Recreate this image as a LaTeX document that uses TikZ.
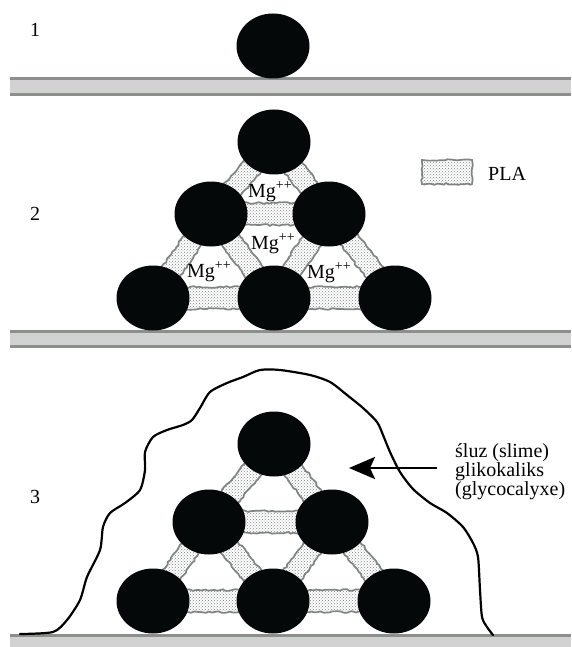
\documentclass[tikz,border=0pt]{standalone}
\usepackage{fontspec}
\setmainfont{Liberation Serif}
\usetikzlibrary{shapes.geometric,patterns,decorations.pathmorphing,arrows.meta}
\definecolor{cellblack}{RGB}{4,8,8}
\definecolor{linkgray}{RGB}{128,132,130}
\definecolor{barfill}{RGB}{210,210,210}
\definecolor{barline}{RGB}{140,143,140}
\begin{document}
\begin{tikzpicture}[x=1pt,y=-1pt,
  cell/.style={ellipse,fill=cellblack,draw=none,inner sep=0pt,
    minimum width=73pt,minimum height=65pt},
  link/.style={rectangle,inner sep=0pt,minimum width=#1,minimum height=20pt,
    draw=linkgray,line width=1.7pt,preaction={fill=white},
    pattern=crosshatch dots,pattern color=linkgray,
    decorate,decoration={random steps,segment length=3pt,amplitude=0.9pt}},
  link/.default=44pt,
  txt/.style={inner sep=0pt,font=\fontsize{20}{20}\selectfont},
  slime/.style={line width=2.2pt,line join=round,line cap=round},
  pointer/.style={line width=2.8pt,-{Stealth[length=26pt,width=22pt,inset=5pt]}},
]
\pgfmathsetseed{11}
\fill[white] (0,0) rectangle (571,647);
\useasboundingbox (0,0) rectangle (571,647);

% substrate bars
\fill[barfill] (10,77) rectangle (571,96);
\fill[barline] (10,77) rectangle (571,80);
\fill[barline] (10,93) rectangle (571,96);
\fill[barfill] (10,330) rectangle (571,348);
\fill[barline] (10,330) rectangle (571,333);
\fill[barline] (10,345) rectangle (571,348);
\fill[barfill] (10,634) rectangle (571,647);
\fill[barline] (10,634) rectangle (571,637);

% step numbers
\node[txt,anchor=base west] (n1) at (30,37) {1};
\node[txt,anchor=base west] (n2) at (30,220) {2};
\node[txt,anchor=base west] (n3) at (30,503) {3};

% stage 1: single cell
\node[cell] (s1) at (273,46) {};

% stage 2: cells bridged by PLA
\coordinate (c2t) at (274,142);
\coordinate (c2l) at (211,214);
\coordinate (c2r) at (329,214);
\coordinate (c2a) at (153,298);
\coordinate (c2b) at (274,298);
\coordinate (c2c) at (395,298);
\path (c2t) -- node[link,sloped] (p2a) {} (c2l);
\path (c2t) -- node[link,sloped] (p2b) {} (c2r);
\path (c2l) -- node[link=60pt,sloped,minimum height=22pt] (p2c) {} (c2r);
\path (c2l) -- node[link,sloped] (p2d) {} (c2a);
\path (c2l) -- node[link,sloped] (p2e) {} (c2b);
\path (c2r) -- node[link,sloped] (p2f) {} (c2b);
\path (c2r) -- node[link,sloped] (p2g) {} (c2c);
\path (c2a) -- node[link=62pt,sloped,minimum height=22pt] (p2h) {} (c2b);
\path (c2b) -- node[link=62pt,sloped,minimum height=22pt] (p2i) {} (c2c);
\node[cell] (s2t) at (c2t) {};
\node[cell] (s2l) at (c2l) {};
\node[cell] (s2r) at (c2r) {};
\node[cell] (s2a) at (c2a) {};
\node[cell] (s2b) at (c2b) {};
\node[cell] (s2c) at (c2c) {};
\node[txt,anchor=base west] (mg1) at (248,197) {Mg\textsuperscript{++}};
\node[txt,anchor=base west] (mg2) at (251,249) {Mg\textsuperscript{++}};
\node[txt,anchor=base west] (mg3) at (187,277) {Mg\textsuperscript{++}};
\node[txt,anchor=base west] (mg4) at (307,278) {Mg\textsuperscript{++}};

% legend
\node[link=50pt,minimum height=24pt] (leg) at (447,172) {};
\node[txt,anchor=base west] (legtxt) at (488,180) {PLA};

% stage 3: slime envelope
\draw[slime] plot[smooth,tension=0.45] coordinates {
  (20,634) (53,632) (67,620) (80,600) (87,577) (100,550) (103,527)
  (110,513) (125,503) (140,490) (145,470) (145,452) (153,437) (167,430)
  (183,425) (192,420) (200,408) (210,392) (227,383) (243,377) (260,370)
  (280,370) (310,375) (330,382) (347,395) (363,408) (377,422) (383,435)
  (390,452) (400,472) (413,489) (430,503) (447,513) (463,527) (473,543)
  (478,557) (480,590) (482,617) (487,627) (493,635)};

\coordinate (c3t) at (274,444);
\coordinate (c3l) at (209,522);
\coordinate (c3r) at (332,522);
\coordinate (c3a) at (153,601);
\coordinate (c3b) at (273,601);
\coordinate (c3c) at (394,601);
\path (c3t) -- node[link,sloped] (p3a) {} (c3l);
\path (c3t) -- node[link,sloped] (p3b) {} (c3r);
\path (c3l) -- node[link=62pt,sloped,minimum height=22pt] (p3c) {} (c3r);
\path (c3l) -- node[link,sloped] (p3d) {} (c3a);
\path (c3l) -- node[link,sloped] (p3e) {} (c3b);
\path (c3r) -- node[link,sloped] (p3f) {} (c3b);
\path (c3r) -- node[link,sloped] (p3g) {} (c3c);
\path (c3a) -- node[link=62pt,sloped,minimum height=22pt] (p3h) {} (c3b);
\path (c3b) -- node[link=62pt,sloped,minimum height=22pt] (p3i) {} (c3c);
\node[cell] (s3t) at (c3t) {};
\node[cell] (s3l) at (c3l) {};
\node[cell] (s3r) at (c3r) {};
\node[cell] (s3a) at (c3a) {};
\node[cell] (s3b) at (c3b) {};
\node[cell] (s3c) at (c3c) {};

% slime label with pointer
\node[txt,anchor=base west] (sl1) at (455,457) {śluz (slime)};
\node[txt,anchor=base west] (sl2) at (455,476) {glikokaliks};
\node[txt,anchor=base west] (sl3) at (455,495) {(glycocalyxe)};
\coordinate (arrS) at (437,468);
\coordinate (arrE) at (349,468);
\draw[pointer] (arrS) -- (arrE);
\end{tikzpicture}
\end{document}
